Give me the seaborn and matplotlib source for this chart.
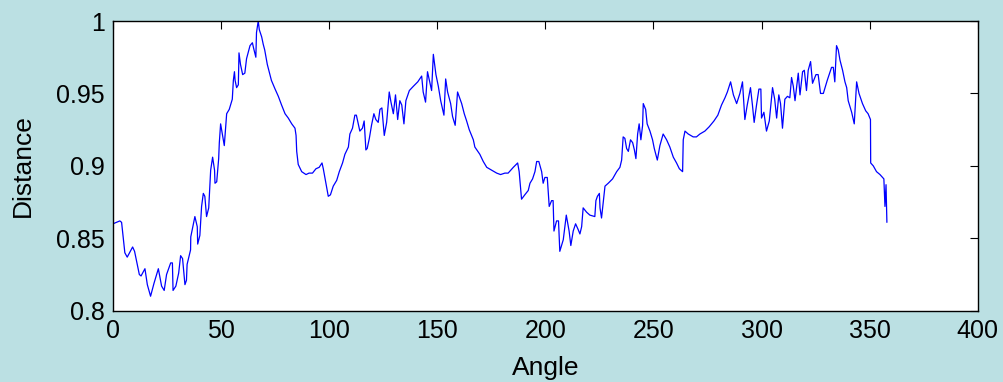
import matplotlib
matplotlib.use("Agg")
import matplotlib.pyplot as plt
import seaborn as sns

angle = [
    0.0, 3.2, 4.0, 5.5, 6.6, 9.1, 10.0, 12.2, 13.0, 14.8, 15.9, 17.4, 19.0, 21.0,
    22.5, 23.7, 24.8, 26.7, 27.5, 27.8, 29.1, 30.4, 31.3, 32.2, 33.3, 34.0, 34.3,
    35.9, 36.0, 37.9, 39.0, 39.2, 40.2, 41.0, 41.8, 42.5, 43.3, 44.3, 45.2, 46.1,
    47.0, 47.2, 48.0, 48.9, 49.2, 49.8, 50.7, 51.5, 52.6, 53.8, 55.2, 55.7, 56.2,
    56.5, 57.2, 58.0, 58.3, 59.0, 60.0, 61.0, 61.8, 63.4, 64.5, 65.1, 66.1, 66.4,
    67.2, 67.7, 68.8, 69.5, 70.2, 71.4, 72.6, 73.3, 75.0, 76.5, 78.0, 79.6, 81.1,
    82.7, 84.2, 84.7, 85.0, 85.7, 87.3, 89.3, 90.7, 92.3, 93.9, 95.4, 96.7, 97.3,
    99.6, 100.6, 101.9, 103.5, 104.7, 106.2, 107.3, 108.9, 109.6, 110.8, 111.9,
    112.6, 114.2, 115.4, 116.2, 117.0, 117.6, 118.6, 119.6, 120.7, 121.6, 122.7,
    123.5, 124.4, 125.5, 126.6, 127.8, 128.6, 129.7, 130.7, 131.7, 132.7, 133.6,
    134.6, 135.5, 137.1, 139.0, 141.0, 142.8, 143.5, 144.6, 145.5, 146.5, 147.4,
    148.2, 149.4, 150.5, 151.6, 153.1, 153.9, 154.8, 156.2, 157.1, 158.3, 159.4,
    161.3, 162.5, 163.6, 164.8, 166.7, 167.4, 169.7, 171.3, 172.9, 175.2, 177.5,
    179.3, 181.3, 182.8, 185.2, 187.2, 187.9, 189.0, 190.5, 192.1, 192.9, 194.1,
    195.2, 196.0, 197.0, 198.3, 199.0, 199.8, 200.9, 201.8, 202.9, 203.6, 204.0,
    205.2, 206.1, 206.7, 208.3, 209.7, 211.0, 211.8, 212.9, 214.0, 215.2, 216.0,
    216.8, 217.5, 219.1, 220.6, 222.9, 223.4, 224.1, 225.0, 225.3, 226.0, 226.8,
    227.6, 229.1, 231.1, 233.0, 234.5, 235.3, 236.0, 236.8, 237.6, 238.4, 239.4,
    240.4, 241.2, 241.9, 242.7, 243.4, 244.2, 245.0, 245.3, 246.4, 247.1, 248.4,
    249.6, 250.4, 251.8, 253.0, 254.5, 256.1, 257.6, 259.2, 260.7, 262.0, 263.5,
    263.8, 264.6, 266.1, 268.4, 269.9, 271.5, 273.8, 275.8, 278.0, 279.8, 281.5,
    283.1, 284.2, 285.7, 287.0, 288.5, 290.0, 291.2, 292.3, 293.4, 294.9, 295.8,
    296.6, 297.7, 298.8, 299.7, 300.0, 301.1, 302.3, 303.6, 305.1, 306.1, 307.0,
    308.0, 308.8, 309.7, 310.8, 312.0, 313.1, 313.9, 314.7, 315.5, 317.0, 317.8,
    319.0, 319.8, 320.8, 321.6, 322.7, 323.6, 325.2, 326.2, 327.3, 328.6, 330.4,
    332.4, 333.2, 333.9, 334.7, 335.5, 336.3, 337.5, 338.6, 339.4, 340.1, 341.7,
    342.9, 344.0, 345.1, 346.7, 348.2, 349.3, 350.4, 350.5, 351.7, 353.2, 354.8,
    356.6, 357.1, 357.6, 358.0,
]

distance = [
    0.860, 0.862, 0.861, 0.840, 0.837, 0.844, 0.841, 0.825, 0.824, 0.829, 0.818,
    0.810, 0.819, 0.829, 0.817, 0.814, 0.825, 0.833, 0.833, 0.814, 0.817, 0.826,
    0.838, 0.836, 0.818, 0.821, 0.832, 0.842, 0.851, 0.865, 0.858, 0.846, 0.852,
    0.872, 0.881, 0.879, 0.865, 0.871, 0.897, 0.906, 0.897, 0.888, 0.889, 0.905,
    0.916, 0.929, 0.921, 0.914, 0.936, 0.939, 0.946, 0.959, 0.965, 0.959, 0.954,
    0.956, 0.978, 0.970, 0.963, 0.964, 0.974, 0.983, 0.985, 0.981, 0.975, 0.992,
    1.000, 0.994, 0.989, 0.984, 0.980, 0.970, 0.963, 0.959, 0.953, 0.948, 0.942,
    0.936, 0.933, 0.929, 0.926, 0.921, 0.910, 0.901, 0.896, 0.894, 0.895, 0.895,
    0.898, 0.899, 0.902, 0.898, 0.879, 0.880, 0.886, 0.890, 0.896, 0.902, 0.908,
    0.913, 0.922, 0.926, 0.935, 0.935, 0.924, 0.926, 0.931, 0.911, 0.912, 0.919,
    0.928, 0.936, 0.932, 0.930, 0.939, 0.940, 0.921, 0.930, 0.951, 0.944, 0.936,
    0.949, 0.932, 0.945, 0.942, 0.929, 0.945, 0.952, 0.955, 0.958, 0.962, 0.951,
    0.944, 0.965, 0.958, 0.952, 0.977, 0.963, 0.955, 0.945, 0.935, 0.960, 0.951,
    0.943, 0.934, 0.928, 0.951, 0.943, 0.936, 0.931, 0.925, 0.918, 0.913, 0.908,
    0.903, 0.899, 0.897, 0.895, 0.894, 0.895, 0.895, 0.899, 0.902, 0.896, 0.877,
    0.880, 0.883, 0.888, 0.891, 0.896, 0.903, 0.903, 0.896, 0.888, 0.892, 0.892,
    0.872, 0.876, 0.876, 0.855, 0.862, 0.862, 0.841, 0.849, 0.866, 0.855, 0.845,
    0.855, 0.860, 0.856, 0.853, 0.858, 0.871, 0.868, 0.866, 0.865, 0.876, 0.879,
    0.881, 0.871, 0.864, 0.875, 0.886, 0.888, 0.891, 0.896, 0.899, 0.904, 0.920,
    0.919, 0.912, 0.910, 0.918, 0.916, 0.911, 0.905, 0.922, 0.929, 0.918, 0.928,
    0.943, 0.939, 0.929, 0.924, 0.918, 0.912, 0.904, 0.914, 0.922, 0.918, 0.913,
    0.906, 0.902, 0.898, 0.896, 0.918, 0.924, 0.922, 0.920, 0.920, 0.922, 0.924,
    0.927, 0.931, 0.935, 0.942, 0.947, 0.951, 0.958, 0.949, 0.943, 0.950, 0.958,
    0.932, 0.942, 0.954, 0.942, 0.930, 0.942, 0.953, 0.953, 0.933, 0.937, 0.924,
    0.931, 0.954, 0.946, 0.933, 0.949, 0.943, 0.926, 0.946, 0.948, 0.947, 0.961,
    0.955, 0.945, 0.964, 0.949, 0.965, 0.966, 0.952, 0.966, 0.972, 0.957, 0.963,
    0.963, 0.950, 0.950, 0.959, 0.968, 0.968, 0.958, 0.983, 0.980, 0.973, 0.966,
    0.958, 0.954, 0.945, 0.937, 0.929, 0.958, 0.950, 0.943, 0.938, 0.936, 0.932,
    0.902, 0.900, 0.896, 0.894, 0.891, 0.872, 0.887, 0.861,
]

x_ticks = [0, 50, 100, 150, 200, 250, 300, 350, 400]
y_ticks = [0.8, 0.85, 0.9, 0.95, 1.0]
y_tick_labels = ["0.8", "0.85", "0.9", "0.95", "1"]

BG = "#BBE0E3"


def setup_plot_style():
    """MATLAB-like look: light blue figure, white box, inward ticks."""
    sns.set_style("white")
    plt.rcParams["font.family"] = ["Liberation Sans", "DejaVu Sans"]
    fig = plt.figure(figsize=(10.04, 3.82), dpi=100, facecolor=BG)
    ax = fig.add_axes([0.1125, 0.1866, 0.8613, 0.7584])
    ax.set_facecolor("white")
    return fig, ax


def create_line_plot(ax):
    sns.lineplot(x=angle, y=distance, ax=ax, color="#0000FF", linewidth=0.9,
                 estimator=None, sort=False)


def customize_plot(ax):
    ax.set_xlim(0, 400)
    ax.set_ylim(0.8, 1.0)
    ax.set_xticks(x_ticks)
    ax.set_xticklabels([str(t) for t in x_ticks])
    ax.set_yticks(y_ticks)
    ax.set_yticklabels(y_tick_labels)
    ax.tick_params(direction="in", top=True, right=True, length=6, width=0.8,
                   color="black", labelsize=18, labelcolor="black")
    ax.tick_params(axis="x", pad=6)
    ax.tick_params(axis="y", pad=6)
    for s in ax.spines.values():
        s.set_visible(True)
        s.set_color("black")
        s.set_linewidth(1.0)
    ax.set_xlabel("Angle", fontsize=19, color="black", labelpad=9)
    ax.set_ylabel("Distance", fontsize=19, color="black", labelpad=15)


def main():
    fig, ax = setup_plot_style()
    create_line_plot(ax)
    customize_plot(ax)
    fig.savefig("out.png", dpi=100, facecolor=BG)


if __name__ == "__main__":
    main()
